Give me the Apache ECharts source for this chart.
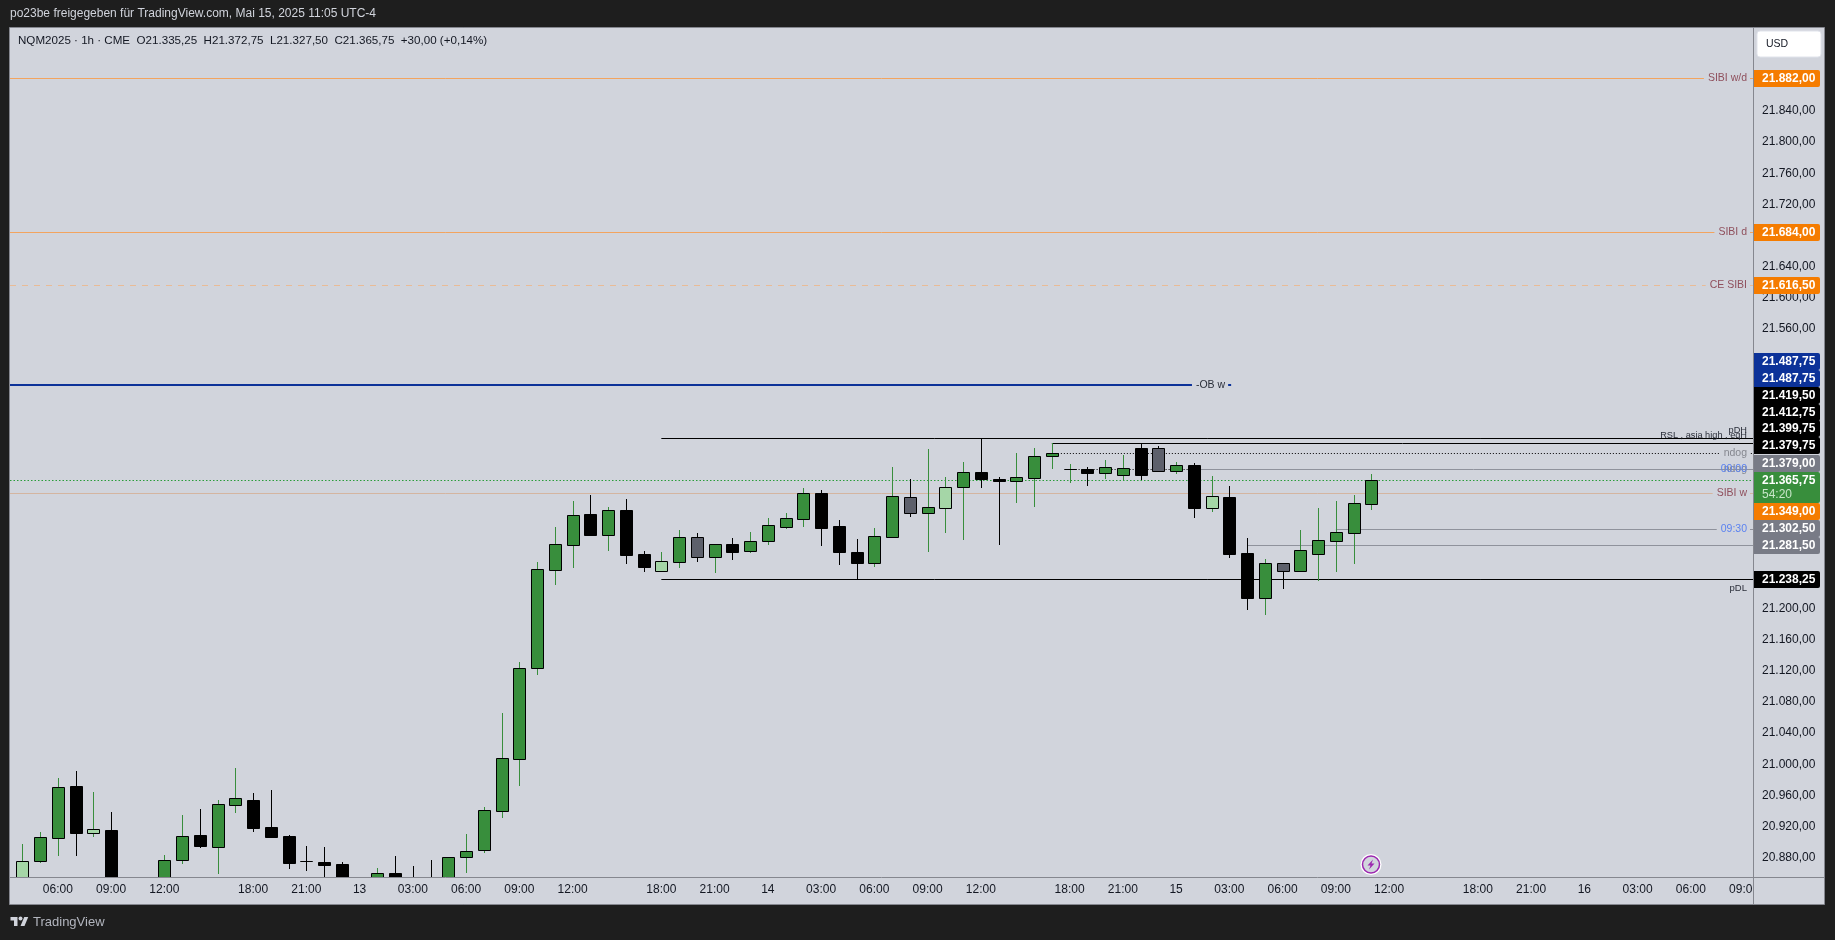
<!DOCTYPE html>
<html>
<head>
<meta charset="utf-8">
<title>NQM2025 1h</title>
<style>
html, body { margin: 0; padding: 0; background: #1e1e1e; overflow: hidden; }
#chart { width: 1835px; height: 940px; }
</style>
<script src="https://cdn.jsdelivr.net/npm/echarts@6/dist/echarts.min.js"></script>
</head>
<body>
<div id="chart"></div>
<script>
// candles, one entry per 1h bar (bars 5-7 and 18-23 run below the visible range, estimated)
var candleOpen = [20840, 20876.2, 20905.7, 20972.2, 20912.2, 20915.6, 20825, 20815, 20835, 20877.4, 20909.2, 20894.2, 20948.2, 20953.7, 20919, 20907.9, 20875.5, 20874.4, 20871.8, 20845, 20835, 20860.3, 20850, 20840, 20845, 20880.4, 20890.3, 20940.4, 21007.3, 21124.3, 21250.3, 21282.4, 21321.8, 21295.3, 21327, 21270.4, 21249, 21260.6, 21291.8, 21267, 21282.8, 21274.7, 21287.6, 21305.6, 21315.8, 21348.8, 21306, 21272.6, 21259.3, 21292.7, 21343.3, 21323.6, 21330, 21357, 21375.8, 21366.8, 21364.3, 21368.6, 21396.8, 21379, 21379.3, 21375, 21380.6, 21372.4, 21406.3, 21377.6, 21384.4, 21330, 21343.3, 21271.3, 21214.3, 21258.4, 21249, 21270.8, 21287.6, 21297.8, 21335.25];
var candleHigh = [20897.5, 20912.6, 20982.4, 20991.4, 20964.4, 20938.7, 20845, 20840, 20883, 20934.9, 20942.6, 20953.7, 20995.3, 20963.2, 20967, 20909.2, 20895, 20893.7, 20874.4, 20851, 20866.7, 20882.1, 20869.3, 20877, 20880.4, 20910.4, 20945.1, 21066, 21131.5, 21260.1, 21305.1, 21338.6, 21346.3, 21330.4, 21341.1, 21274.3, 21273, 21301.3, 21297.4, 21282.8, 21291, 21298.7, 21316.7, 21323.1, 21354.8, 21352.7, 21313.7, 21289.7, 21303.8, 21382.3, 21366.4, 21405.4, 21369.4, 21388.7, 21419.1, 21369.4, 21400.3, 21406.7, 21413.1, 21386.1, 21382.3, 21391.3, 21397.7, 21412.7, 21409.3, 21388.7, 21387.4, 21370.7, 21357.8, 21291, 21264, 21258.4, 21301.3, 21329.6, 21338.6, 21346.3, 21372.75];
var candleLow = [20830, 20873.2, 20882.2, 20882.2, 20906.6, 20820, 20800, 20805, 20825, 20871.9, 20892.4, 20859, 20937.4, 20913, 20906.6, 20865.4, 20863.3, 20840, 20835, 20815, 20825, 20830, 20825, 20815, 20835, 20860.7, 20886.4, 20931.4, 20972.1, 21115.3, 21230.6, 21252.4, 21293.6, 21274.3, 21257.6, 21247.3, 21249, 21252.4, 21260.1, 21246, 21262.7, 21271.7, 21282, 21302.6, 21305.1, 21280.7, 21256.3, 21237.8, 21253.7, 21292.7, 21318, 21273, 21297.4, 21288.4, 21355.3, 21282, 21336, 21330.8, 21379.7, 21361.7, 21357.8, 21366.8, 21365.6, 21365.6, 21375.8, 21373.3, 21316.7, 21324.4, 21265.3, 21198.4, 21192, 21225.4, 21247.3, 21235.7, 21247.3, 21257.6, 21327.5];
var candleClose = [20875.3, 20906.2, 20970.4, 20912.2, 20916.4, 20830, 20810, 20830, 20876.6, 20907.4, 20895, 20948.6, 20956.3, 20918.2, 20906.6, 20873.2, 20875, 20870.5, 20848, 20825, 20859.8, 20840, 20835, 20825, 20880.4, 20889, 20940.8, 21007.7, 21123.4, 21250.7, 21282.8, 21320.1, 21294.8, 21326.6, 21269.1, 21254.1, 21261, 21291.8, 21267, 21282.8, 21273, 21286.7, 21307.3, 21316.3, 21348.4, 21304.3, 21273.4, 21259.3, 21293.1, 21344.6, 21323.6, 21330.4, 21356.1, 21375.4, 21366.8, 21364.3, 21369, 21396, 21399.8, 21379.4, 21375, 21381.8, 21372.4, 21406.3, 21377.6, 21384.4, 21330, 21344.6, 21270.4, 21214.3, 21258.4, 21249, 21275.1, 21288, 21298.3, 21335.6, 21365.75];
// g = green, k = black, l = light green, s = slate
var candleTone = 'lggkl' + 'kkkggkg' + 'gkkkkkkkgkkkggggggg' + 'gkgkklgsgkggggkkkggsglgkkggglkggksgklkkgsggggg';

var xTickBars = [2, 5, 8, 13, 16, 19, 22, 25, 28, 31, 36, 39, 42, 45, 48, 51, 54, 59, 62, 65, 68, 71, 74, 77, 82, 85, 88, 91, 94, 97];
var xTickLabels = ['06:00', '09:00', '12:00', '18:00', '21:00', '13', '03:00', '06:00', '09:00', '12:00', '18:00', '21:00', '14', '03:00', '06:00', '09:00', '12:00', '18:00', '21:00', '15', '03:00', '06:00', '09:00', '12:00', '18:00', '21:00', '16', '03:00', '06:00', '09:00'];
var yTicks = [20880, 20920, 20960, 21000, 21040, 21080, 21120, 21160, 21200, 21560, 21600, 21640, 21720, 21760, 21800, 21840];

// drawn levels
var levelNames = ['SIBI w/d', 'SIBI d', 'CE SIBI', '-OB w', 'pDH', 'RSL , asia high , eqH', 'ndog', 'ndog', '00:00', 'SIBI w', '09:30', '', 'pDL', ''];
var levelPrices = [21882, 21684, 21616.5, 21487.75, 21419.5, 21412.75, 21399.75, 21379.75, 21379, 21349, 21302.5, 21281.5, 21238.25, 21365.75];
var levelStartBars = [-1, -1, -1, -1, 36, 58, 58, 59, 66, -1, 74, 69, 36, -1];
var levelEndBars = [98, 98, 98, 68.1, 98, 98, 98, 98, 98, 98, 98, 98, 98, 98];
var levelKinds = ['sibi', 'sibi', 'ce', 'ob', 'above', 'above', 'dots', 'dots', 'time', 'sibiw', 'time', 'time', 'below', 'last'];

// price tags on the right scale
var tagPrices = [21882, 21684, 21616.5, 21487.75, 21487.75, 21419.5, 21412.75, 21399.75, 21379.75, 21379, 21365.75, 21349, 21302.5, 21281.5, 21238.25];
var tagColors = ['#f57c00', '#f57c00', '#f57c00', '#0c3299', '#0c3299', '#000000', '#000000', '#000000', '#000000', '#787b86', '#388e3c', '#f57c00', '#787b86', '#787b86', '#000000'];
var tagTops = [70, 224, 277, 353, 370, 387, 404, 420, 437, 455, 472, 503, 520, 537, 571];
var countdown = '54:20';

var FONT = '"Liberation Sans", Arial, sans-serif';
var PANEL = '#d1d4dc';
var GREEN = '#388e3c';
var LIGHT = '#a5d6a7';
var SLATE = '#5d606b';
var AXIS = '#85878f';
var LEVEL_STYLE = {
	sibi:  { color: '#f2a45f', text: '#8f4f5c', width: 1 },
	ce:    { color: '#e9bb96', text: '#8f4f5c', width: 1, dash: [6, 6] },
	sibiw: { color: '#d4b5a0', text: '#8f4f5c', width: 1 },
	ob:    { color: '#0c3299', text: '#2a2e39', width: 2 },
	above: { color: '#000000', text: '#2a2e39', width: 1, shift: -8, size: 9.2 },
	below: { color: '#000000', text: '#2a2e39', width: 1, shift: 9, size: 9.5 },
	dots:  { color: '#000000', text: '#85878f', width: 1, dash: [1, 2] },
	time:  { color: '#8f929c', text: '#5b82f0', width: 1 },
	last:  { color: '#2a9d3a', text: '#2a9d3a', width: 1, dash: [1.5, 2] }
};

function priceText(p) {
	return p.toLocaleString('de-DE', { minimumFractionDigits: 2, maximumFractionDigits: 2 });
}

function renderLevel(params, api) {
	var i = params.dataIndex;
	var rect = params.coordSys;
	var style = LEVEL_STYLE[levelKinds[i]];
	var y = Math.round(api.coord([0, api.value(2)])[1]);
	if (style.width === 1) y += 0.5;
	var x0 = Math.max(api.coord([api.value(0), 0])[0], rect.x);
	var x1 = Math.min(api.coord([api.value(1), 0])[0], rect.x + rect.width);
	var children = [{
		type: 'line',
		shape: { x1: x0, y1: y, x2: x1, y2: y },
		style: { stroke: style.color, lineWidth: style.width, lineDash: style.dash || null }
	}];
	if (levelNames[i]) {
		var plain = style.shift !== undefined;
		children.push({
			type: 'text',
			x: x1 - 3,
			y: y + (style.shift || 0),
			style: {
				text: levelNames[i],
				font: (style.size || 10.5) + 'px ' + FONT,
				fill: style.text,
				align: 'right',
				verticalAlign: 'middle',
				backgroundColor: plain || levelNames[i] === '00:00' ? null : PANEL,
				padding: [1, 3, 1, 4]
			}
		});
	}
	return { type: 'group', children: children };
}

function renderCandle(params, api) {
	var i = api.value(0);
	var tone = candleTone.charAt(params.dataIndex);
	var cx = Math.round(api.coord([i, 0])[0]);
	var yO = Math.round(api.coord([i, api.value(1)])[1]);
	var yH = Math.round(api.coord([i, api.value(2)])[1]);
	var yL = Math.round(api.coord([i, api.value(3)])[1]);
	var yC = Math.round(api.coord([i, api.value(4)])[1]);
	var top = Math.min(yO, yC);
	var bottom = Math.max(yO, yC);
	var up = tone === 'g' || tone === 'l';
	var body = tone === 'g' ? GREEN : tone === 'l' ? LIGHT : tone === 's' ? SLATE : '#000000';
	return {
		type: 'group',
		children: [{
			type: 'rect',
			shape: { x: cx, y: yH, width: 1, height: Math.max(yL - yH, 1) },
			style: { fill: up ? GREEN : '#000000' }
		}, {
			type: 'rect',
			shape: { x: cx - 6 + 0.5, y: top + 0.5, width: 12, height: Math.max(bottom - top, 0.01) },
			style: { fill: body, stroke: '#000000', lineWidth: 1 }
		}]
	};
}

function renderTag(params, api) {
	var i = params.dataIndex;
	var left = params.coordSys.x + params.coordSys.width + 1;
	var top = tagTops[i];
	var tall = i === 10;
	var children = [{
		type: 'rect',
		shape: { x: left, y: top, width: 66, height: tall ? 31 : 17, r: [0, 2, 2, 0] },
		style: { fill: tagColors[i] }
	}, {
		type: 'text',
		x: 1762,
		y: top + 9,
		style: { text: priceText(api.value(1)), font: 'bold 12px ' + FONT, fill: '#ffffff', verticalAlign: 'middle' }
	}];
	if (tall) {
		children.push({
			type: 'text',
			x: 1762,
			y: top + 23,
			style: { text: countdown, font: '12px ' + FONT, fill: '#c8e6c9', verticalAlign: 'middle' }
		});
	}
	return { type: 'group', children: children };
}

var candleRows = [];
for (var b = 0; b < candleOpen.length; b++) {
	candleRows.push([b, candleOpen[b], candleHigh[b], candleLow[b], candleClose[b]]);
}
var levelRows = [];
for (var l = 0; l < levelPrices.length; l++) {
	levelRows.push([levelStartBars[l], levelEndBars[l], levelPrices[l]]);
}
var tagRows = [];
for (var t = 0; t < tagPrices.length; t++) {
	tagRows.push([98, tagPrices[t]]);
}

var chart = echarts.init(document.getElementById('chart'));

chart.setOption({
	backgroundColor: '#1e1e1e',
	animation: false,
	textStyle: { fontFamily: FONT },
	grid: { left: 10, top: 28, width: 1743, height: 849 },
	xAxis: {
		type: 'value',
		min: -0.693,
		max: 97.5,
		axisLine: { show: true, onZero: false, lineStyle: { color: AXIS } },
		axisTick: { show: false },
		splitLine: { show: false },
		axisLabel: {
			customValues: xTickBars,
			margin: 7,
			fontSize: 12,
			fontFamily: FONT,
			color: '#131722',
			formatter: function (v) { return xTickLabels[xTickBars.indexOf(v)]; }
		}
	},
	yAxis: {
		type: 'value',
		position: 'right',
		min: 20855,
		max: 21946.7,
		axisLine: { show: true, onZero: false, lineStyle: { color: AXIS } },
		axisTick: { show: false },
		splitLine: { show: false },
		axisLabel: {
			customValues: yTicks,
			margin: 9,
			fontSize: 12,
			fontFamily: FONT,
			color: '#131722',
			formatter: priceText
		}
	},
	series: [
		{ type: 'custom', name: 'levels', clip: true, z: 2, renderItem: renderLevel, data: levelRows, encode: { x: [0, 1], y: 2 } },
		{ type: 'custom', name: 'NQM2025', clip: true, z: 3, renderItem: renderCandle, data: candleRows, encode: { x: 0, y: [1, 2, 3, 4] } },
		{ type: 'custom', name: 'tags', clip: false, z: 4, renderItem: renderTag, data: tagRows, encode: { x: 0, y: 1 } }
	],
	graphic: [
		{ type: 'rect', z: -1, silent: true, shape: { x: 9.5, y: 27.5, width: 1815, height: 877 }, style: { fill: PANEL, stroke: AXIS, lineWidth: 1 } },
		// last time label runs under the price scale
		{ type: 'rect', z: 10, silent: true, shape: { x: 1754, y: 878, width: 70, height: 26 }, style: { fill: PANEL } },
		{ type: 'line', z: 11, silent: true, shape: { x1: 1753.5, y1: 877, x2: 1753.5, y2: 904 }, style: { stroke: AXIS, lineWidth: 1 } },
		{ type: 'line', z: 11, silent: true, shape: { x1: 1753, y1: 877.5, x2: 1824, y2: 877.5 }, style: { stroke: AXIS, lineWidth: 1 } },
		{ type: 'text', z: 11, x: 10, y: 14, style: { text: 'po23be freigegeben für TradingView.com, Mai 15, 2025 11:05 UTC-4', font: '12px ' + FONT, fill: '#d1d4dc', verticalAlign: 'middle' } },
		{ type: 'text', z: 11, x: 18, y: 41, style: { text: 'NQM2025 · 1h · CME  O21.335,25  H21.372,75  L21.327,50  C21.365,75  +30,00 (+0,14%)', font: '11.6px ' + FONT, fill: '#131722', verticalAlign: 'middle' } },
		// currency button
		{ type: 'rect', z: 11, shape: { x: 1757, y: 31, width: 64, height: 26, r: 3 }, style: { fill: '#ffffff', stroke: '#e0e3eb', lineWidth: 1 } },
		{ type: 'text', z: 12, x: 1766, y: 44.5, style: { text: 'USD', font: '10.5px ' + FONT, fill: '#131722', verticalAlign: 'middle' } },
		// event marker on the live bar
		{ type: 'circle', z: 11, shape: { cx: 1371, cy: 864.5, r: 10.5 }, style: { fill: '#ffffff' } },
		{ type: 'circle', z: 12, shape: { cx: 1371, cy: 864.5, r: 8.5 }, style: { fill: PANEL, stroke: '#9c27b0', lineWidth: 1.5 } },
		{ type: 'polygon', z: 13, shape: { points: [[1373, 859.5], [1367.5, 865.5], [1370.5, 865.5], [1369, 869.5], [1374.5, 863.5], [1371.5, 863.5]] }, style: { fill: '#9c27b0' } },
		// footer logo
		{ type: 'polygon', z: 11, shape: { points: [[17.5, 926], [14, 926], [14, 920.5], [10.5, 920.5], [10.5, 917], [17.5, 917]] }, style: { fill: '#d1d4dc' } },
		{ type: 'polygon', z: 11, shape: { points: [[24.5, 926], [20.5, 926], [24.25, 917], [28.25, 917]] }, style: { fill: '#d1d4dc' } },
		{ type: 'circle', z: 11, shape: { cx: 20.5, cy: 918.5, r: 2 }, style: { fill: '#d1d4dc' } },
		{ type: 'text', z: 11, x: 33, y: 922, style: { text: 'TradingView', font: '13px ' + FONT, fill: '#b2b5be', verticalAlign: 'middle' } }
	]
});
</script>
</body>
</html>
